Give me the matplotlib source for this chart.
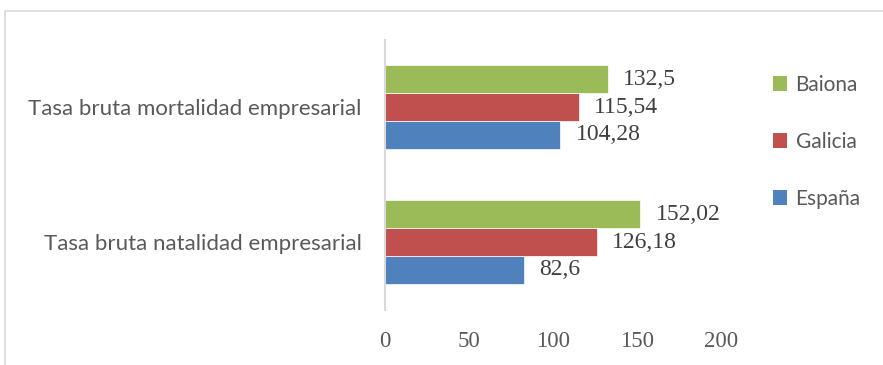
import matplotlib
matplotlib.use("Agg")
import matplotlib.pyplot as plt
from matplotlib.patches import Rectangle, Patch
import numpy as np

categories = ["Tasa bruta natalidad empresarial", "Tasa bruta mortalidad empresarial"]
series = ["España", "Galicia", "Baiona"]
espana = [82.6, 104.28]
galicia = [126.18, 115.54]
baiona = [152.02, 132.5]
xticks = [0, 50, 100, 150, 200]

colors = {"España": "#4F81BD", "Galicia": "#C0504D", "Baiona": "#9BBB59"}
values = {"España": espana, "Galicia": galicia, "Baiona": baiona}

fig = plt.figure(figsize=(8.83, 3.65), dpi=100)
ax = fig.add_axes([0.436, 0.152, 0.3805, 0.7397])

# outer chart frame, only top/left edges fall inside the image
fig.patches.append(Rectangle((0.0057, -0.2), 1.2, 1.17, transform=fig.transFigure,
                             fill=False, edgecolor="#D9D9D9", linewidth=1.2))

y = np.arange(len(categories))
h = 0.207
offsets = {"España": -h, "Galicia": 0.0, "Baiona": h}

for name in series:
    vals = values[name]
    ax.barh(y + offsets[name], vals, height=h, color=colors[name], edgecolor="white",
            linewidth=0.5)
    for yi, v in zip(y, vals):
        ax.annotate(str(v).replace(".", ","), xy=(v, yi + offsets[name]), xytext=(11, 0),
                    textcoords="offset points", va="center", ha="left",
                    fontsize=17, family="Liberation Serif", color="#404040")

ax.set_xlim(0, 200)
ax.set_ylim(-0.5, 1.5)
ax.set_xticks(xticks)
ax.set_xticklabels([str(t) for t in xticks], family="Liberation Serif", fontsize=16.5,
                   color="#595959")
ax.set_yticks(y)
ax.set_yticklabels(categories, family="Lato", fontsize=16, color="#595959")
ax.tick_params(axis="x", length=0, pad=15.5)
ax.tick_params(axis="y", length=0, pad=17)

for s in ["top", "right", "bottom"]:
    ax.spines[s].set_visible(False)
ax.spines["left"].set_color("#D9D9D9")
ax.spines["left"].set_linewidth(1.5)

handles = [Patch(facecolor=colors[n], label=n) for n in ["Baiona", "Galicia", "España"]]
fig.legend(handles=handles, loc="upper left", bbox_to_anchor=(0.875, 0.795),
           frameon=False, prop={"family": "Lato", "size": 15}, labelcolor="#595959",
           handlelength=0.7, handleheight=0.7, handletextpad=0.4, labelspacing=1.78,
           borderaxespad=0, borderpad=0)

fig.savefig("out.png", dpi=100)
